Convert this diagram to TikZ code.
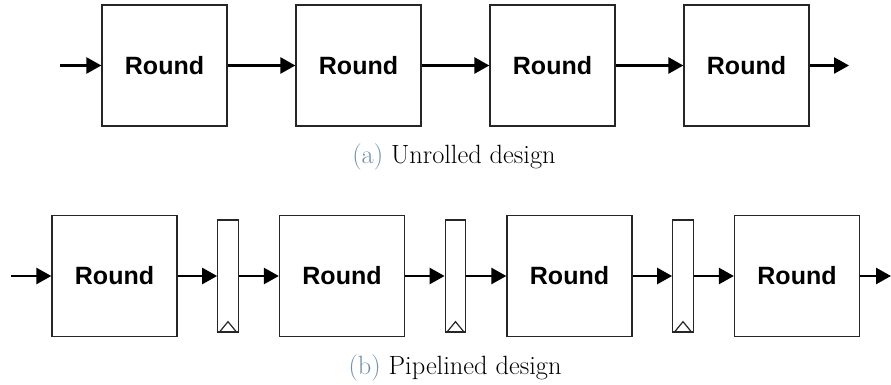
\documentclass[tikz,border=0pt]{standalone}
\usepackage{fontspec}
\newfontfamily\arial{Liberation Sans}
\usetikzlibrary{arrows.meta}
\definecolor{capcol}{RGB}{110,144,172}
\begin{document}
\begin{tikzpicture}[x=1pt,y=-1pt,
  roundbox/.style={draw=black!85,line width=1.3pt,minimum width=125pt,minimum height=121pt,inner sep=0pt,
    font=\arial\bfseries\fontsize{25}{29}\selectfont},
  regbox/.style={draw=black!85,line width=1.3pt,minimum width=20.5pt,minimum height=112pt,inner sep=0pt},
  conn/.style={line width=2.6pt,-{Triangle[length=15pt,width=16pt]}},
  capt/.style={font=\fontsize{26.4}{30}\selectfont,inner sep=0pt}]
\useasboundingbox (0,0) rectangle (891,385);
% top row
\node[roundbox] (a1) at (164.5,65.5) {Round};
\node[roundbox] (a2) at (358.5,65.5) {Round};
\node[roundbox] (a3) at (552.5,65.5) {Round};
\node[roundbox] (a4) at (746.5,65.5) {Round};
\coordinate (ain) at (60,65.5);
\coordinate (aout) at (849,65.5);
\draw[conn] (ain) -- (a1.west);
\draw[conn] (a1) -- (a2);
\draw[conn] (a2) -- (a3);
\draw[conn] (a3) -- (a4);
\draw[conn] (a4.east) -- (aout);
\node[capt] (capa) at (454,157) {\textcolor{capcol}{(a)} Unrolled design};
% bottom row
\node[roundbox] (b1) at (114.5,276) {Round};
\node[roundbox] (b2) at (342,276) {Round};
\node[roundbox] (b3) at (569.5,276) {Round};
\node[roundbox] (b4) at (797,276) {Round};
\node[regbox] (r1) at (228,276) {};
\node[regbox] (r2) at (455.5,276) {};
\node[regbox] (r3) at (683,276) {};
\foreach \r in {r1,r2,r3}{
  \draw[line width=1.2pt,black!85] ([xshift=-9pt]\r.south) -- ([yshift=11pt]\r.south) -- ([xshift=9pt]\r.south);
}
\coordinate (bin) at (11,276);
\coordinate (bout) at (891,276);
\draw[conn] (bin) -- (b1.west);
\draw[conn] (b1) -- (r1);
\draw[conn] (r1) -- (b2);
\draw[conn] (b2) -- (r2);
\draw[conn] (r2) -- (b3);
\draw[conn] (b3) -- (r3);
\draw[conn] (r3) -- (b4);
\draw[conn] (b4.east) -- (bout);
\node[capt] (capb) at (455,367.5) {\textcolor{capcol}{(b)} Pipelined design};
\end{tikzpicture}
\end{document}
